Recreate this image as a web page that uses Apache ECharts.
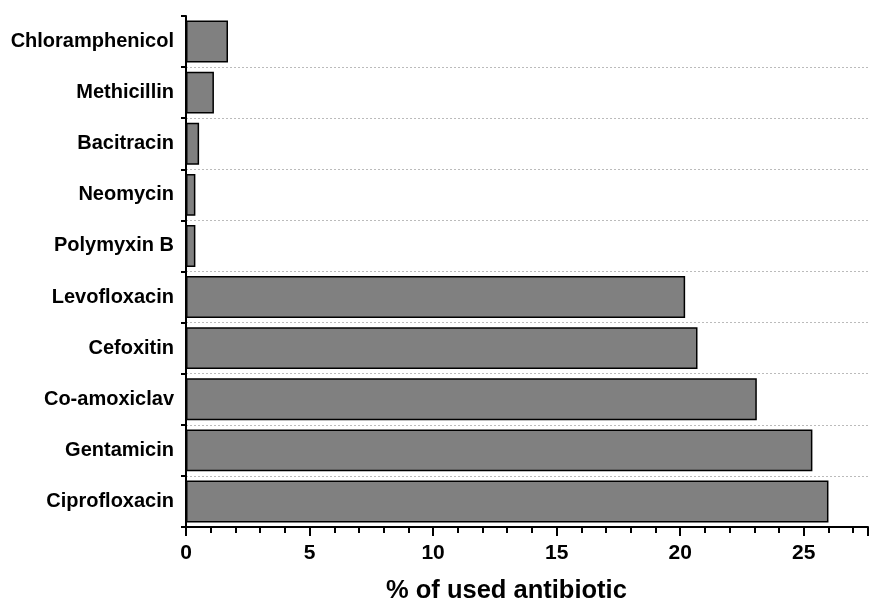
<!DOCTYPE html>
<html><head><meta charset="utf-8">
<script src="https://cdn.jsdelivr.net/npm/echarts@6/dist/echarts.min.js"></script>
<style>html,body{margin:0;padding:0;background:#fff}#c{width:871px;height:606px}</style>
</head><body><div id="c"></div>
<script>
var categories = ['Chloramphenicol','Methicillin','Bacitracin','Neomycin','Polymyxin B','Levofloxacin','Cefoxitin','Co-amoxiclav','Gentamicin','Ciprofloxacin'];
var values = [1.7, 1.13, 0.53, 0.38, 0.38, 20.2, 20.7, 23.1, 25.35, 26.0];
var xTitle = '% of used antibiotic';

var chart = echarts.init(document.getElementById('c'));
var font = '"Liberation Sans", Arial, sans-serif';
chart.setOption({
  animation: false,
  title: {text: xTitle, left: 386, top: 578, padding: 0,
    textStyle: {fontFamily: font, fontWeight: 'bold', fontSize: 25.5, color: '#000'}},
  grid: {left: 186, right: 3, top: 16, bottom: 79, containLabel: false},
  xAxis: {
    type: 'value', min: 0, max: 27.6, interval: 5,
    axisLine: {show: true, lineStyle: {color: '#000', width: 2}},
    axisTick: {show: true, length: 9, lineStyle: {color: '#000', width: 2}},
    minorTick: {show: true, splitNumber: 5, length: 6, lineStyle: {color: '#000', width: 2}},
    axisLabel: {fontFamily: font, fontWeight: 'bold', fontSize: 21, color: '#000', margin: 16,
      showMaxLabel: false},
    splitLine: {show: false}
  },
  yAxis: {
    type: 'category', data: categories, inverse: true,
    axisLine: {show: true, lineStyle: {color: '#000', width: 2}},
    axisTick: {show: true, length: 5, lineStyle: {color: '#000', width: 2}},
    axisLabel: {fontFamily: font, fontWeight: 'bold', fontSize: 20, color: '#000', margin: 12},
    splitLine: {show: true, lineStyle: {color: ['rgba(0,0,0,0)','#bbbbbb','#bbbbbb','#bbbbbb','#bbbbbb','#bbbbbb','#bbbbbb','#bbbbbb','#bbbbbb','#bbbbbb','rgba(0,0,0,0)'], type: [2, 2], width: 1}}
  },
  series: [{
    type: 'bar', data: values, barCategoryGap: '18%',
    itemStyle: {color: '#808080', borderColor: '#000', borderWidth: 1.5}
  }]
});
</script></body></html>
